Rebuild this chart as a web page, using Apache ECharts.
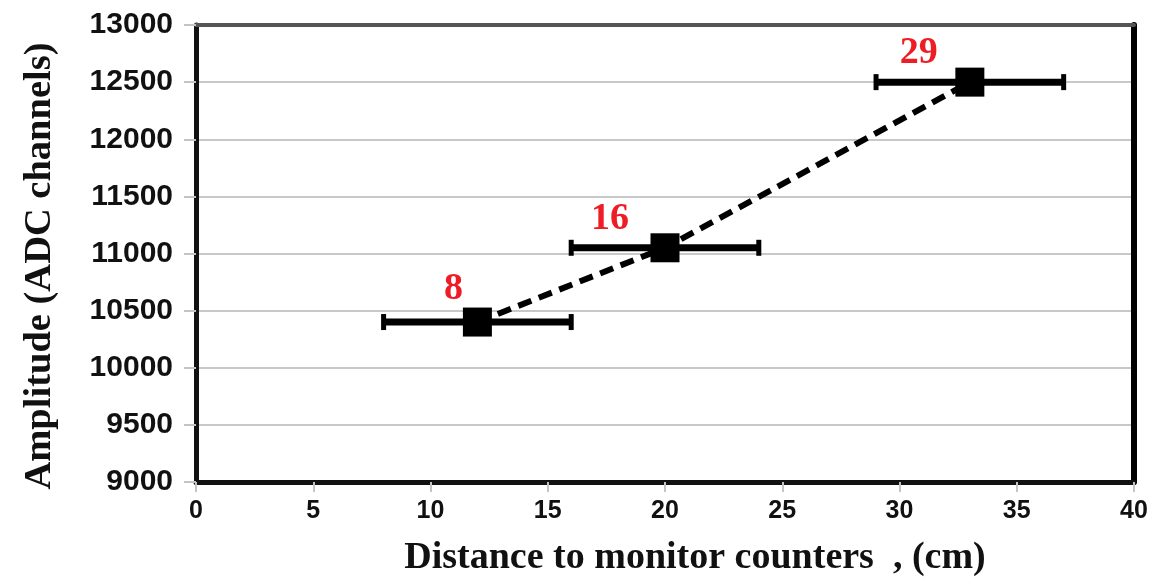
<!DOCTYPE html>
<html>
<head>
<meta charset="utf-8">
<script src="https://cdn.jsdelivr.net/npm/echarts@6/dist/echarts.min.js"></script>
<style>
html,body{margin:0;padding:0;background:#fff;}
#chart{width:1153px;height:581px;}
</style>
</head>
<body>
<div id="chart"></div>
<script>
// ---- data ----
const distance = [12, 20, 33];
const amplitude = [10400, 11050, 12500];
const distLow = [8, 16, 29];
const distHigh = [16, 24, 37];
const pointLabels = ['8', '16', '29'];
const xTicks = [0, 5, 10, 15, 20, 25, 30, 35, 40];
const yTicks = [9000, 9500, 10000, 10500, 11000, 11500, 12000, 12500, 13000];
const xTitle = 'Distance to monitor counters  , (cm)';
const yTitle = 'Amplitude (ADC channels)';

// ---- style ----
const labelOffsets = [[-24, -33], [-55, -29], [-51, -29]];

const chart = echarts.init(document.getElementById('chart'));

const option = {
  backgroundColor: '#ffffff',
  animation: false,
  grid: { left: 196, right: 19, top: 25, bottom: 99, show: false },
  xAxis: [{
    type: 'value',
    min: xTicks[0], max: xTicks[xTicks.length - 1], interval: 5,
    position: 'bottom',
    axisLine: { onZero: false, show: true, lineStyle: { color: '#111', width: 5 } },
    axisTick: { show: true, length: 10, lineStyle: { color: '#c4c4c4', width: 2 } },
    axisLabel: {
      margin: 17,
      formatter: function (v) { return String(v); },
      fontFamily: '"Liberation Sans", Arial, sans-serif',
      fontWeight: 'bold', fontSize: 25, color: '#111'
    },
    splitLine: { show: false }
  }, {
    type: 'value',
    min: xTicks[0], max: xTicks[xTicks.length - 1], interval: 5,
    position: 'top',
    axisLine: { onZero: false, show: true, lineStyle: { color: '#555', width: 4 } },
    axisTick: { show: false }, axisLabel: { show: false }, splitLine: { show: false }
  }],
  yAxis: [{
    type: 'value',
    min: yTicks[0], max: yTicks[yTicks.length - 1], interval: 500,
    position: 'left',
    axisLine: { onZero: false, show: true, lineStyle: { color: '#111', width: 5 } },
    axisTick: { show: true, length: 12, lineStyle: { color: '#c4c4c4', width: 2 } },
    axisLabel: {
      margin: 23,
      formatter: function (v) { return String(v); },
      fontFamily: '"Liberation Sans", Arial, sans-serif',
      fontWeight: 'bold', fontSize: 30, color: '#111'
    },
    splitLine: { show: true, lineStyle: { color: '#c8c8c8', width: 2 } }
  }, {
    type: 'value',
    min: yTicks[0], max: yTicks[yTicks.length - 1], interval: 500,
    position: 'right',
    axisLine: { onZero: false, show: true, lineStyle: { color: '#000', width: 6 } },
    axisTick: { show: false }, axisLabel: { show: false }, splitLine: { show: false }
  }],
  series: [{
    type: 'custom',
    z: 2,
    data: distance.map((d, i) => [distLow[i], distHigh[i], amplitude[i]]),
    encode: { x: [0, 1], y: 2 },
    renderItem: function (params, api) {
      const y = api.value(2);
      const lo = api.coord([api.value(0), y]);
      const hi = api.coord([api.value(1), y]);
      const st = { stroke: '#000', lineWidth: 7 };
      const cap = { stroke: '#000', lineWidth: 5 };
      return {
        type: 'group',
        children: [
          { type: 'line', shape: { x1: lo[0], y1: lo[1], x2: hi[0], y2: hi[1] }, style: st },
          { type: 'line', shape: { x1: lo[0], y1: lo[1] - 8, x2: lo[0], y2: lo[1] + 8 }, style: cap },
          { type: 'line', shape: { x1: hi[0], y1: hi[1] - 8, x2: hi[0], y2: hi[1] + 8 }, style: cap }
        ]
      };
    }
  }, {
    type: 'line',
    z: 3,
    data: distance.map((d, i) => ({
      value: [d, amplitude[i]],
      label: { offset: labelOffsets[i] }
    })),
    symbol: 'rect',
    symbolSize: 29,
    itemStyle: { color: '#000' },
    lineStyle: { color: '#000', width: 6, type: [14, 8] },
    label: {
      show: true,
      position: 'inside',
      formatter: function (p) { return pointLabels[p.dataIndex]; },
      fontFamily: '"Liberation Serif", "Times New Roman", serif',
      fontWeight: 'bold', fontSize: 38, color: '#ee1c25'
    }
  }],
  graphic: [{
    type: 'text',
    x: 695, y: 558,
    style: {
      text: xTitle,
      font: 'bold 38px "Liberation Serif", "Times New Roman", serif',
      fill: '#111', align: 'center', verticalAlign: 'middle'
    }
  }, {
    type: 'text',
    x: 40, y: 266,
    rotation: Math.PI / 2,
    style: {
      text: yTitle,
      font: 'bold 38.5px "Liberation Serif", "Times New Roman", serif',
      fill: '#111', align: 'center', verticalAlign: 'middle'
    }
  }]
};

chart.setOption(option);
</script>
</body>
</html>
